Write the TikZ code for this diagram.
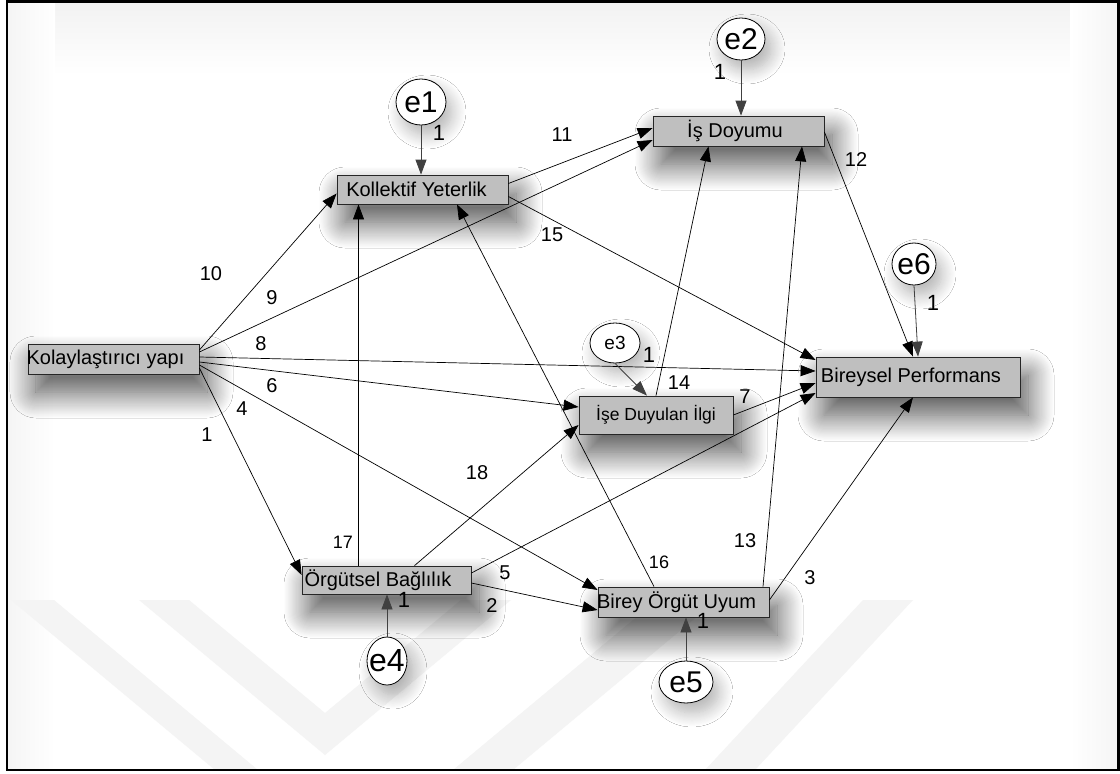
\documentclass[tikz,border=0pt]{standalone}
\usepackage{fontspec}
\setmainfont{Liberation Sans}
\usetikzlibrary{arrows.meta,calc,shadows.blur,shapes.geometric}
\begin{document}
\begin{tikzpicture}[x=1pt,y=-1pt,
  var/.style={draw=black!85,line width=0.8pt,fill=gray!50,rectangle,inner sep=0pt,
    font=\fontsize{20}{22}\selectfont,
    blur shadow={shadow xshift=8pt,shadow yshift=-18pt,shadow blur radius=26pt,shadow blur steps=24,shadow opacity=70}},
  err/.style={draw=black,line width=0.8pt,fill=white,ellipse,inner sep=0pt,
    blur shadow={shadow xshift=6pt,shadow yshift=-10pt,shadow blur radius=14pt,shadow blur steps=14,shadow opacity=30}},
  conn/.style={draw=black,line width=0.7pt,-{Triangle[length=15pt,width=11pt]}},
  econn/.style={draw=black!75,line width=0.8pt,-{Triangle[length=15pt,width=11pt]}},
  num/.style={font=\fontsize{20}{22}\selectfont,inner sep=0pt},
  smallnum/.style={font=\fontsize{18}{20}\selectfont,inner sep=0pt},
  band/.style={fill=gray!9,draw=none}
]
\useasboundingbox (0,0) rectangle (1120,774);
\fill[white] (0,0) rectangle (1120,774);

% soft inner glow along the frame
\shade[top color=gray!10,bottom color=white] (8,3) rectangle (1118,75);
\shade[left color=gray!8,right color=white] (8,3) rectangle (55,769);
\shade[left color=white,right color=gray!8] (1070,3) rectangle (1118,769);

% faint chevron watermark in the lower part
\begin{scope}
  \clip (8,598) rectangle (1118,769);
  \path[band] (11,600) -- (54,600) -- (258,770) -- (215,770) -- cycle;
  \path[band] (139,600) -- (189,600) -- (325,713) -- (461,600) -- (511,600) -- (325,755) -- cycle;
  \path[band] (453,770) -- (513,770) -- (717,600) -- (657,600) -- cycle;
  \path[band] (705,770) -- (755,770) -- (913,600) -- (863,600) -- cycle;
\end{scope}

% frame
\draw[line width=2.2pt] (7,1.5) rectangle (1118.5,770);

% observed variables
\node[var,minimum width=171pt,minimum height=30pt] (K) at (113.5,359) {\hspace*{-16pt}Kolaylaştırıcı yapı};
\node[var,minimum width=171pt,minimum height=29pt] (KY) at (422.5,189.5) {\hspace*{-12pt}Kollektif Yeterlik};
\node[var,minimum width=171pt,minimum height=30pt] (ID) at (738.5,131) {\hspace*{-7pt}İş Doyumu};
\node[var,minimum width=154pt,minimum height=38pt,font=\fontsize{17.5}{20}\selectfont] (IDI) at (656,415) {İşe Duyulan İlgi};
\node[var,minimum width=204pt,minimum height=40pt] (BP) at (918,377) {\hspace*{-14pt}Bireysel Performans};
\node[var,minimum width=169pt,minimum height=28pt] (OB) at (386.5,580) {\hspace*{-17pt}Örgütsel Bağlılık};
\node[var,minimum width=171pt,minimum height=30pt] (BOU) at (683.5,602) {\hspace*{-14pt}Birey Örgüt Uyum};

% error terms
\node[err,minimum width=50pt,minimum height=46pt,font=\fontsize{30}{32}\selectfont] (e1) at (421,102) {\makebox[0pt]{e1}};
\node[err,minimum width=48pt,minimum height=42pt,font=\fontsize{30}{32}\selectfont] (e2) at (741,39) {\makebox[0pt]{e2}};
\node[err,minimum width=50pt,minimum height=40pt,font=\fontsize{19}{21}\selectfont] (e3) at (615,343) {\makebox[0pt]{e3}};
\node[err,minimum width=40pt,minimum height=48pt,font=\fontsize{32}{34}\selectfont] (e4) at (387,661) {\makebox[0pt]{e4}};
\node[err,minimum width=54pt,minimum height=42pt,font=\fontsize{30}{32}\selectfont] (e5) at (686,682) {\makebox[0pt]{e5}};
\node[err,minimum width=44pt,minimum height=42pt,font=\fontsize{30}{32}\selectfont] (e6) at (914,264) {\makebox[0pt]{e6}};

% paths from Kolaylastirici yapi
\draw[conn] ($(K.east)+(0,9)$) -- ($(OB.west)+(0,-5)$);
\draw[conn] ($(K.east)+(0,6)$) -- ($(BOU.west)+(0,-12)$);
\draw[conn] ($(K.east)+(0,3)$) -- ($(IDI.west)+(0,-8)$);
\draw[conn] ($(K.east)+(0,-2)$) -- ($(BP.west)+(0,-6)$);
\draw[conn] ($(K.east)+(0,-7)$) -- ($(ID.west)+(0,9)$);
\draw[conn] ($(K.east)+(0,-9)$) -- ($(KY.west)+(0,4)$);
% paths from Kollektif Yeterlik
\draw[conn] ($(KY.east)+(0,-6)$) -- ($(ID.west)+(0,-3)$);
\draw[conn] ($(KY.east)+(0,7)$) -- ($(BP.west)+(0,-17)$);
% paths from Is Doyumu and Ise Duyulan Ilgi
\draw[conn] ($(ID.east)+(0,1)$) -- ($(BP.north)+(-5,0)$);
\draw[conn] (IDI.north) -- ($(ID.south)+(-30,0)$);
\draw[conn] (IDI.east) -- ($(BP.west)+(0,6)$);
% paths from Orgutsel Baglilik
\draw[conn] ($(OB.north)+(-28,0)$) -- ($(KY.south)+(-64,0)$);
\draw[conn] ($(OB.north)+(28,0)$) -- ($(IDI.west)+(0,10)$);
\draw[conn] ($(OB.east)+(0,-7)$) -- ($(BP.west)+(0,16)$);
\draw[conn] ($(OB.east)+(0,3)$) -- ($(BOU.west)+(0,8)$);
% paths from Birey Orgut Uyum
\draw[conn] ($(BOU.north)+(-29.5,0)$) -- ($(KY.south)+(34.5,0)$);
\draw[conn] ($(BOU.north)+(79.5,0)$) -- ($(ID.south)+(63.5,0)$);
\draw[conn] ($(BOU.east)+(0,-2)$) -- ($(BP.south)+(-5,0)$);
% error paths
\draw[econn] (e1.south) -- (e1.south |- KY.north);
\draw[econn] (e2.south) -- (e2.south |- ID.north);
\draw[econn] (e3.south) -- ($(IDI.north)+(-9,0)$);
\draw[econn] (e4.north) -- (e4.north |- OB.south);
\draw[econn] (e5.north) -- (e5.north |- BOU.south);
\draw[econn] (e6.south) -- (BP.north);

% path numbers
\node[num] (n10) at (211,274) {10};
\node[num] (n9) at (272,298) {9};
\node[num] (n8) at (261,344) {8};
\node[num] (n6) at (272,386) {6};
\node[num] (n4) at (242,409) {4};
\node[num] (n1) at (207,435) {1};
\node[num] (n11) at (562,135) {11};
\node[num] (n15) at (552,235) {15};
\node[num] (n12) at (856,160) {12};
\node[num] (n14) at (679,383) {14};
\node[num] (n7) at (745,397) {7};
\node[num] (n18) at (477,473) {18};
\node[smallnum] (n17) at (343,542) {17};
\node[smallnum] (n16) at (659,562) {16};
\node[num] (n13) at (745,541) {13};
\node[num] (n5) at (505,573) {5};
\node[num] (n2) at (492,606) {2};
\node[num] (n3) at (810,578) {3};
% fixed error weights
\node[num,font=\fontsize{22}{24}\selectfont] (w1) at (439,133) {1};
\node[num,font=\fontsize{22}{24}\selectfont] (w2) at (720,72) {1};
\node[num,font=\fontsize{22}{24}\selectfont] (w3) at (649,355) {1};
\node[num,font=\fontsize{22}{24}\selectfont] (w4) at (404,600) {1};
\node[num,font=\fontsize{22}{24}\selectfont] (w5) at (703,621) {1};
\node[num,font=\fontsize{22}{24}\selectfont] (w6) at (933,303) {1};
\end{tikzpicture}
\end{document}
